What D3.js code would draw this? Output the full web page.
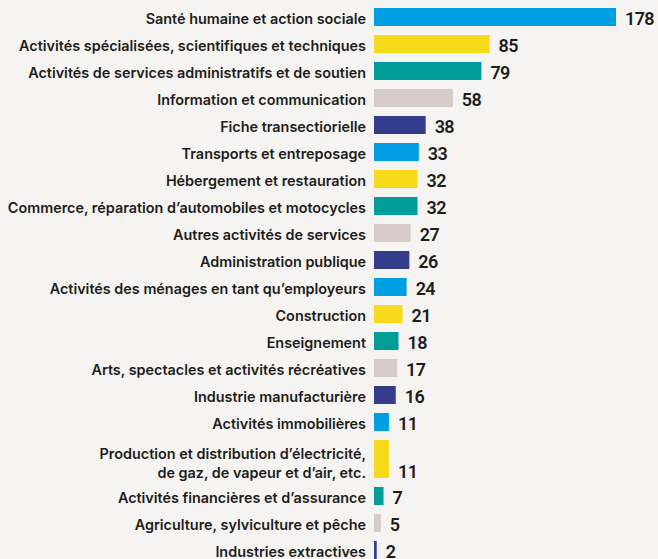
<!DOCTYPE html>
<html>
<head>
<meta charset="utf-8">
<script src="https://cdn.jsdelivr.net/npm/d3@7"></script>
<style>
  body { margin: 0; background: #f5f4f2; }
  svg { display: block; }
  .label { font-family: Inter, sans-serif; font-weight: 600; font-size: 14.4px; fill: #1d1d1b; }
  .value { font-family: Roboto, sans-serif; font-weight: 600; font-size: 18px; letter-spacing: -0.6px; fill: #1d1d1b; }
</style>
</head>
<body>
<script>
//categories, top to bottom (a \n breaks the label on two lines)
var categories = [
  "Santé humaine et action sociale",
  "Activités spécialisées, scientifiques et techniques",
  "Activités de services administratifs et de soutien",
  "Information et communication",
  "Fiche transectiorielle",
  "Transports et entreposage",
  "Hébergement et restauration",
  "Commerce, réparation d’automobiles et motocycles",
  "Autres activités de services",
  "Administration publique",
  "Activités des ménages en tant qu’employeurs",
  "Construction",
  "Enseignement",
  "Arts, spectacles et activités récréatives",
  "Industrie manufacturière",
  "Activités immobilières",
  "Production et distribution d’électricité,\nde gaz, de vapeur et d’air, etc.",
  "Activités financières et d’assurance",
  "Agriculture, sylviculture et pêche",
  "Industries extractives"
];

var values = [178, 85, 79, 58, 38, 33, 32, 32, 27, 26, 24, 21, 18, 17, 16, 11, 11, 7, 5, 2];

var palette = ["#009fe3", "#f9da1a", "#009d9a", "#d6cbc8", "#333d8b"];

var width = 658,
  height = 559;

var svg = d3.select("body")
  .append("svg")
  .attr("width", width)
  .attr("height", height);

//rows: one unit per text line, so the two-line label gets a taller band
var rows = categories.map(function(c, i) {
  return { name: c, lines: c.split("\n"), value: values[i] };
});
var offset = 0;
rows.forEach(function(r) {
  r.start = offset;
  r.size = 1 + (r.lines.length - 1) * 0.74;
  offset += r.size;
});

var rowPitch = 27,
  gap = 9;

var y = d3.scaleLinear()
  .domain([0, offset])
  .range([8, 8 + offset * rowPitch]);

var x = d3.scaleLinear()
  .domain([0, 178])
  .range([374, 616]);

var row = svg.selectAll(".row")
  .data(rows)
  .enter()
  .append("g")
  .attr("class", "row");

row.append("rect")
  .attr("x", x(0))
  .attr("y", function(d) { return y(d.start); })
  .attr("width", function(d) { return Math.max(x(d.value) - x(0), 2.5); })
  .attr("height", function(d) { return y(d.start + d.size) - y(d.start) - gap; })
  .attr("fill", function(d, i) { return palette[i % palette.length]; });

//category labels, right aligned before the bars
row.each(function(d) {
  var top = y(d.start),
    bottom = y(d.start + d.size) - gap,
    lineH = 19,
    multi = d.lines.length > 1,
    mid = (top + bottom) / 2 + (multi ? 4 : 1.5),
    first = mid - (d.lines.length - 1) * lineH / 2;
  var t = d3.select(this).append("text")
    .attr("class", "label")
    .attr("text-anchor", "end")
    .attr("x", 366);
  d.lines.forEach(function(l, k) {
    t.append("tspan")
      .attr("x", 366)
      .attr("y", first + k * lineH)
      .attr("dy", "0.35em")
      .text(l);
  });
});

//values after the bars, on the last line of the label
row.append("text")
  .attr("class", "value")
  .attr("x", function(d) { return Math.max(x(d.value), x(0) + 2.5) + 9; })
  .attr("y", function(d) {
    var top = y(d.start),
      bottom = y(d.start + d.size) - gap;
    return d.lines.length > 1 ? bottom - 6 : (top + bottom) / 2 + 1.5;
  })
  .attr("dy", "0.35em")
  .text(function(d) { return d.value; });
</script>
</body>
</html>
